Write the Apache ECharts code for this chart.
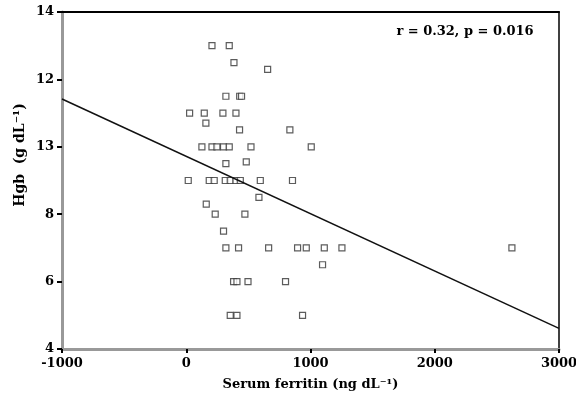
<!DOCTYPE html>
<html>
<head>
<meta charset="utf-8">
<script src="https://cdn.jsdelivr.net/npm/echarts@6/dist/echarts.min.js"></script>
<style>
  html, body { margin: 0; padding: 0; background: #fff; }
  #chart { width: 576px; height: 402px; }
</style>
</head>
<body>
<div id="chart"></div>
<script>
// ferritin (ng/dL) and Hgb (g/dL)
const ferritin = [
	207, 346, 384, 655, 319, 430, 445,
	27, 145, 295, 400, 158, 429, 834,
	126, 207, 247, 300, 346, 521, 1006,
	319, 483,
	16, 185, 225, 314, 354, 400, 435, 596, 855,
	585, 161, 233, 472, 300,
	319, 421, 663, 896, 966, 1111, 1253, 2621,
	1097, 381, 408, 497, 799,
	354, 408, 936
];
const hgb = [
	13.0, 13.0, 12.5, 12.3, 11.5, 11.5, 11.5,
	11.0, 11.0, 11.0, 11.0, 10.7, 10.5, 10.5,
	10.0, 10.0, 10.0, 10.0, 10.0, 10.0, 10.0,
	9.5, 9.55,
	9.0, 9.0, 9.0, 9.0, 9.0, 9.0, 9.0, 9.0, 9.0,
	8.5, 8.3, 8.0, 8.0, 7.5,
	7.0, 7.0, 7.0, 7.0, 7.0, 7.0, 7.0, 7.0,
	6.5, 6.0, 6.0, 6.0, 6.0,
	5.0, 5.0, 5.0
];
// regression line end points
const fitX = [-1000, 3000];
const fitY = [11.42, 4.61];

const xTicks = ['-1000', '0', '1000', '2000', '3000'];
const yTicks = ['4', '6', '8', '13', '12', '14'];

const points = ferritin.map((v, i) => [v, hgb[i]]);
const fitLine = fitX.map((v, i) => [v, fitY[i]]);

const serif = 'DejaVu Serif';
const labelStyle = {
	color: '#000',
	fontFamily: serif,
	fontWeight: 'bold',
	fontSize: 13
};

let myChart = echarts.init(document.getElementById('chart'));

myChart.setOption({
	animation: false,
	grid: { left: 62, right: 17, top: 12, bottom: 53, outerBoundsMode: 'none', containLabel: false },
	xAxis: [{
		type: 'value',
		min: -1000,
		max: 3000,
		interval: 1000,
		name: 'Serum ferritin (ng dL\u207B\u00B9)',
		nameLocation: 'center',
		nameGap: 29,
		nameTextStyle: labelStyle,
		axisLine: { onZero: false, lineStyle: { color: '#999', width: 3 } },
		axisTick: { length: 4, lineStyle: { color: '#000', width: 2 } },
		axisLabel: Object.assign({
			margin: 8,
			formatter: (v, idx) => xTicks[idx]
		}, labelStyle),
		splitLine: { show: false }
	}, {
		type: 'value',
		position: 'top',
		min: -1000,
		max: 3000,
		axisLine: { show: true, onZero: false, lineStyle: { color: '#000', width: 2 } },
		axisTick: { show: false },
		axisLabel: { show: false },
		splitLine: { show: false }
	}],
	yAxis: [{
		type: 'value',
		min: 4,
		max: 14,
		interval: 2,
		axisLine: { onZero: false, lineStyle: { color: '#999', width: 3 } },
		axisTick: { length: 5, lineStyle: { color: '#000', width: 2 } },
		axisLabel: Object.assign({
			margin: 8,
			formatter: (v, idx) => yTicks[idx]
		}, labelStyle),
		splitLine: { show: false }
	}, {
		type: 'value',
		position: 'right',
		min: 4,
		max: 14,
		axisLine: { show: true, onZero: false, lineStyle: { color: '#000', width: 1.5 } },
		axisTick: { show: false },
		axisLabel: { show: false },
		splitLine: { show: false }
	}],
	series: [{
		type: 'scatter',
		data: points,
		symbol: 'rect',
		symbolSize: 6,
		itemStyle: { color: '#fff', borderColor: '#333', borderWidth: 1.2 }
	}, {
		type: 'line',
		data: fitLine,
		symbol: 'none',
		lineStyle: { color: '#111', width: 1.5 }
	}],
	graphic: [{
		type: 'text',
		x: 20,
		y: 155,
		rotation: Math.PI / 2,
		style: {
			text: 'Hgb  (g dL\u207B\u00B9)',
			fill: '#000',
			font: 'bold 14px "DejaVu Serif"',
			align: 'center',
			verticalAlign: 'middle'
		}
	}, {
		type: 'text',
		x: 465,
		y: 32,
		style: {
			text: 'r = 0.32, p = 0.016',
			fill: '#000',
			font: 'bold 13px "DejaVu Serif"',
			align: 'center',
			verticalAlign: 'middle'
		}
	}]
});
</script>
</body>
</html>
